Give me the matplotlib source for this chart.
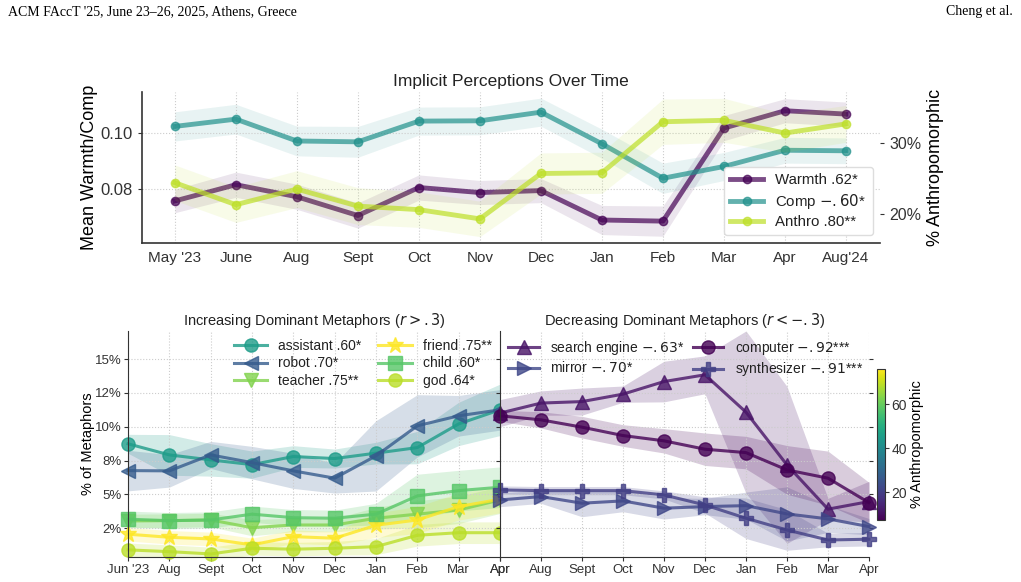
import numpy as np
import matplotlib
matplotlib.use('Agg')
import matplotlib.pyplot as plt
from matplotlib.colors import Normalize
from matplotlib.cm import ScalarMappable
from matplotlib.ticker import FuncFormatter

plt.rcParams['font.family'] = ['Liberation Sans', 'DejaVu Sans']
plt.rcParams['mathtext.fontset'] = 'dejavusans'
plt.rcParams['axes.edgecolor'] = '#333333'
plt.rcParams['xtick.color'] = '#333333'
plt.rcParams['ytick.color'] = '#333333'
plt.rcParams['text.color'] = '#222222'

#---------------------------------
# datos del panel superior
meses_top = ["May '23", 'June', 'Aug', 'Sept', 'Oct', 'Nov', 'Dec', 'Jan', 'Feb', 'Mar', 'Apr', "Aug'24"]
warmth = [0.0757, 0.0815, 0.0772, 0.0705, 0.0805, 0.0787, 0.0794, 0.0689, 0.0685, 0.1017, 0.1079, 0.1067]
warmth_err = [0.0042, 0.0045, 0.0045, 0.0045, 0.0045, 0.0043, 0.0043, 0.0052, 0.0054, 0.0045, 0.0043, 0.0043]
comp = [0.1023, 0.1049, 0.0971, 0.0968, 0.1042, 0.1043, 0.1074, 0.0961, 0.0838, 0.0880, 0.0938, 0.0936]
comp_err = [0.0052, 0.0053, 0.0053, 0.0055, 0.0050, 0.0050, 0.0050, 0.0052, 0.0054, 0.0050, 0.0046, 0.0046]
anthro = [24.4, 21.3, 23.5, 21.1, 20.6, 19.3, 25.7, 25.8, 33.0, 33.2, 31.4, 32.7]
anthro_err = [2.5, 2.5, 2.6, 2.6, 2.5, 2.5, 2.9, 2.9, 3.2, 3.1, 2.7, 2.6]

#---------------------------------
# datos de los paneles inferiores
meses_bot = ["Jun '23", 'Aug', 'Sept', 'Oct', 'Nov', 'Dec', 'Jan', 'Feb', 'Mar', 'Apr']
meses_bot_der = ['Apr', 'Aug', 'Sept', 'Oct', 'Nov', 'Dec', 'Jan', 'Feb', 'Mar', 'Apr']

# metaforas crecientes
assistant = [8.74, 7.92, 7.55, 7.20, 7.80, 7.65, 8.05, 8.46, 10.21, 11.25]
assistant_err = [0.7, 1.5, 1.2, 1.0, 0.8, 0.7, 0.8, 1.2, 1.6, 1.9]
robot = [6.76, 6.74, 7.92, 7.35, 6.74, 6.20, 7.85, 10.07, 10.81, 11.25]
robot_err = [1.5, 1.2, 1.0, 1.2, 1.3, 1.1, 2.6, 2.3, 1.5, 1.5]
teacher = [3.04, 3.06, 3.11, 2.54, 2.74, 2.74, 3.24, 3.54, 3.85, 4.59]
teacher_err = [0.5, 0.5, 0.5, 0.6, 0.5, 0.5, 0.8, 1.0, 1.0, 1.0]
friend = [2.06, 1.83, 1.71, 1.27, 1.88, 1.76, 2.72, 3.11, 4.10, 4.64]
friend_err = [0.5, 0.5, 0.5, 0.5, 0.5, 0.5, 0.9, 1.0, 1.0, 1.0]
child = [3.17, 3.06, 3.11, 3.54, 3.28, 3.24, 3.54, 4.89, 5.28, 5.53]
child_err = [0.6, 0.6, 0.6, 0.6, 0.6, 0.6, 0.8, 1.6, 1.5, 1.5]
god = [0.90, 0.77, 0.60, 1.02, 0.95, 1.02, 1.14, 1.98, 2.17, 2.17]
god_err = [0.5, 0.5, 0.5, 0.5, 0.5, 0.5, 0.6, 0.8, 0.8, 0.8]

# metaforas decrecientes
search_engine = [11.01, 11.75, 11.86, 12.41, 13.34, 13.84, 11.08, 7.18, 3.91, 4.47]
search_engine_err = [1.0, 0.9, 1.0, 0.6, 1.5, 1.4, 6.0, 5.8, 0.8, 1.5]
computer = [10.81, 10.51, 9.97, 9.35, 8.96, 8.34, 8.09, 6.81, 6.20, 4.39]
computer_err = [0.4, 0.6, 0.8, 0.8, 0.9, 1.2, 1.2, 1.8, 2.0, 1.5]
mirror = [4.59, 4.84, 4.35, 4.52, 3.98, 4.10, 4.17, 3.56, 3.19, 2.62]
mirror_err = [0.5, 0.5, 1.0, 0.8, 0.8, 0.6, 1.0, 2.0, 1.0, 0.6]
synthesizer = [5.33, 5.28, 5.28, 5.28, 4.96, 4.22, 3.24, 2.37, 1.63, 1.69]
synthesizer_err = [0.3, 0.3, 0.3, 0.3, 0.3, 0.6, 1.5, 1.5, 0.5, 0.5]

# % antropomorfico de cada metafora (para el color)
pct_antro = {'assistant': 45, 'robot': 27, 'teacher': 63, 'friend': 76, 'child': 58, 'god': 69,
             'search engine': 11, 'computer': 7.4, 'mirror': 22, 'synthesizer': 20}

crecientes = [
    ('assistant', r'assistant .60*', 'o', assistant, assistant_err),
    ('robot', r'robot .70*', '<', robot, robot_err),
    ('teacher', r'teacher .75**', 'v', teacher, teacher_err),
    ('friend', r'friend .75**', '*', friend, friend_err),
    ('child', r'child .60*', 's', child, child_err),
    ('god', r'god .64*', 'o', god, god_err),
]
decrecientes = [
    ('search engine', r'search engine $-.63$*', '^', search_engine, search_engine_err),
    ('mirror', r'mirror $-.70$*', '>', mirror, mirror_err),
    ('computer', r'computer $-.92$***', 'o', computer, computer_err),
    ('synthesizer', r'synthesizer $-.91$***', 'P', synthesizer, synthesizer_err),
]

cmap = plt.get_cmap('viridis')
norm = Normalize(vmin=7.4, vmax=76)

#---------------------------------
fig = plt.figure(figsize=(10.21, 5.82), dpi=100)

fig.text(8 / 1021, 1 - 12 / 582, "ACM FAccT '25, June 23\u201326, 2025, Athens, Greece",
         family='Liberation Serif', fontsize=10, va='center', ha='left', color='black')
fig.text(1 - 8 / 1021, 1 - 12 / 582, 'Cheng et al.', family='Liberation Serif', fontsize=10,
         va='center', ha='right', color='black')

# panel superior
ax = fig.add_axes([0.139, 0.5825, 0.723, 0.2595])
ax2 = ax.twinx()
x = np.arange(len(meses_top))

c_w, c_c, c_a = cmap(0.0), cmap(0.5), cmap(0.9)
w = np.array(warmth); we = np.array(warmth_err)
c = np.array(comp); ce = np.array(comp_err)
a = np.array(anthro); ae = np.array(anthro_err)

ax.fill_between(x, w - we, w + we, color=c_w, alpha=0.1, lw=0)
ax.fill_between(x, c - ce, c + ce, color=c_c, alpha=0.1, lw=0)
lw_, = ax.plot(x, w, color=c_w, lw=3.5, marker='o', ms=6, alpha=0.7, label='Warmth .62*')
lc_, = ax.plot(x, c, color=c_c, lw=3.5, marker='o', ms=6, alpha=0.7, label=r'Comp $-.60$*')
ax2.fill_between(x, a - ae, a + ae, color=c_a, alpha=0.1, lw=0)
la_, = ax2.plot(x, a, color=c_a, lw=3.5, marker='o', ms=6, alpha=0.7, label='Anthro .80**')

ax.set_xlim(-0.54, 11.56)
ax.set_ylim(0.0607, 0.1146)
ax2.set_ylim(15.9, 37.2)
ax.set_xticks(x)
ax.set_xticklabels(meses_top, fontsize=11)
ax.set_yticks([0.08, 0.10])
ax.set_yticklabels(['0.08', '0.10'], fontsize=12)
ax2.set_yticks([20, 30])
ax2.yaxis.set_major_formatter(FuncFormatter(lambda v, p: f'{v:.0f}%'))
ax2.tick_params(axis='y', labelsize=11.5, length=3)
ax.tick_params(axis='x', length=0, pad=6)
ax.tick_params(axis='y', length=3)
ax.grid(color='#cccccc', linestyle=':', linewidth=0.8)
for s in ['top', 'right']:
    ax.spines[s].set_visible(False)
for s in ['top', 'right', 'left', 'bottom']:
    ax2.spines[s].set_visible(False)
ax.spines['left'].set_linewidth(1.2)
ax.spines['bottom'].set_linewidth(1.2)
ax.set_ylabel('Mean Warmth/Comp', fontsize=13, labelpad=2)
ax2.set_ylabel('% Anthropomorphic', fontsize=13)
ax.set_title('Implicit Perceptions Over Time', fontsize=12.5, pad=4)
leg = ax2.legend(handles=[lw_, lc_, la_], loc='lower right', fontsize=10.8, handlelength=2.2,
                 framealpha=1, edgecolor='#dddddd', borderaxespad=0.5, labelspacing=0.3)

#---------------------------------
# paneles inferiores
axL = fig.add_axes([0.1254, 0.0424, 0.3643, 0.3894])
axR = fig.add_axes([0.4897, 0.0424, 0.3614, 0.3894], sharey=axL)
xb = np.arange(len(meses_bot))


def dibujar(axe, series):
    for nombre, etiqueta, marcador, vals, errs in series:
        col = cmap(norm(pct_antro[nombre]))
        v = np.array(vals); e = np.array(errs)
        axe.fill_between(xb, v - e, v + e, color=col, alpha=0.2, lw=0)
        ms = 12 if marcador == '*' else 9.5
        axe.plot(xb, v, color=col, marker=marcador, ms=ms, lw=2.2, alpha=0.8,
                 label=etiqueta, clip_on=False)


dibujar(axL, crecientes)
dibujar(axR, decrecientes)

for axe, etiquetas in [(axL, meses_bot), (axR, meses_bot_der)]:
    axe.set_xlim(0, 9)
    axe.set_xticks(xb)
    axe.set_xticklabels(etiquetas, fontsize=9.5)
    axe.grid(color='#cccccc', linestyle=':', linewidth=0.8)
    axe.tick_params(axis='x', length=3, pad=2)
    axe.tick_params(axis='y', length=3, left=True, right=True, labelsize=9.5, pad=1.5)
    axe.spines['top'].set_visible(False)
    axe.spines['right'].set_visible(False)

axL.set_ylim(0.35, 17.1)
axL.set_yticks([2.5, 5, 7.5, 10, 12.5, 15])
axL.yaxis.set_major_formatter(FuncFormatter(lambda v, p: f'{v:.0f}%'))
axR.tick_params(axis='y', labelleft=False)
axL.set_ylabel('% of Metaphors', fontsize=10.5, labelpad=0)

axL.set_title(r'Increasing Dominant Metaphors ($r > .3$)', fontsize=10.5, pad=4)
axR.set_title(r'Decreasing Dominant Metaphors ($r < -.3$)', fontsize=10.5, pad=4)

axL.legend(loc='upper right', ncol=2, fontsize=10, frameon=False, handlelength=2.4,
           labelspacing=0.25, columnspacing=1.2, borderaxespad=0.2)
axR.legend(loc='upper left', ncol=2, fontsize=10, frameon=False, handlelength=2.2,
           labelspacing=0.25, columnspacing=0.6, borderaxespad=0.2)

# barra de color
cax = fig.add_axes([0.8587, 0.1065, 0.0081, 0.2595])
sm = ScalarMappable(norm=norm, cmap=cmap)
cb = fig.colorbar(sm, cax=cax)
cb.set_ticks([20, 40, 60])
cb.ax.tick_params(labelsize=10, length=3, pad=1.5)
cb.set_label('% Anthropomorphic', fontsize=10.5, labelpad=2)

plt.savefig('out.png', dpi=100)
